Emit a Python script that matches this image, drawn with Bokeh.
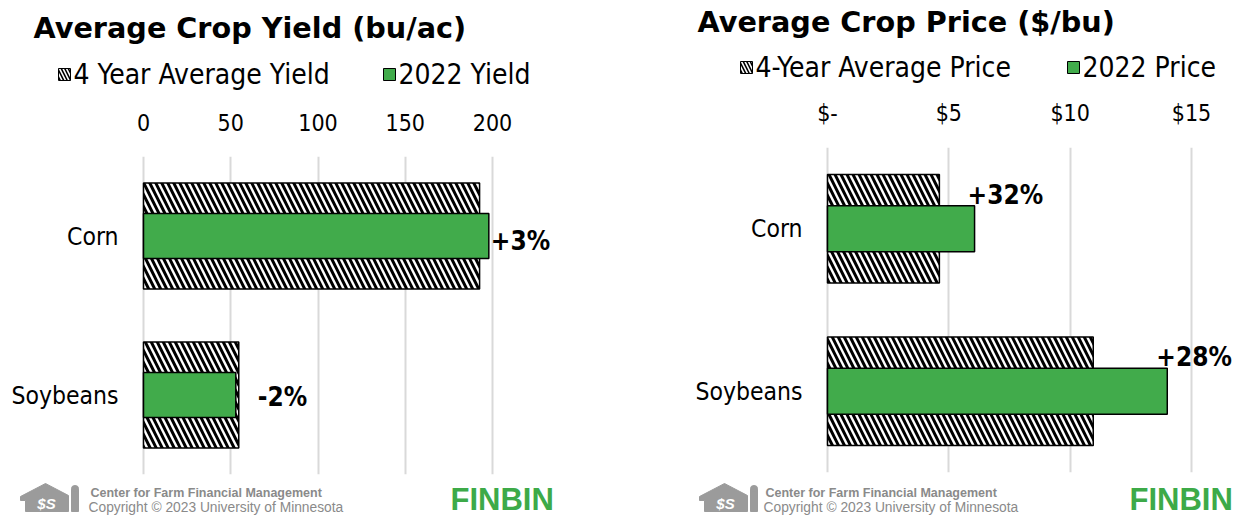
from bokeh.plotting import figure
from bokeh.models import Range1d, FactorRange, FixedTicker, ColumnDataSource
from bokeh.layouts import row, column
from bokeh.embed import file_html
from bokeh.resources import INLINE
from bokeh.core.properties import value

# ---------------- data ----------------
crops = ["Corn", "Soybeans"]

yield_avg = [192.6, 54.6]
yield_2022 = [197.9, 52.9]
yield_change = ["+3%", "-2%"]
yield_ticks = [0, 50, 100, 150, 200]
yield_tick_labels = ["0", "50", "100", "150", "200"]

price_avg = [4.61, 10.95]
price_2022 = [6.06, 14.0]
price_change = ["+32%", "+28%"]
price_ticks = [0, 5, 10, 15]
price_tick_labels = ["$-", "$5", "$10", "$15"]

# ---------------- style ----------------
FONT = "DejaVu Sans Condensed"
TITLE_FONT = "DejaVu Sans"
FOOT = "Liberation Sans"
GREEN = "#41AB4B"
GRAY = "#9B9B9B"
FOOT_TEXT = "#8A8A8A"
FIN_GREEN = "#3DAA48"
PANEL_W = 619
TOTAL_H = 517
FOOT_TOP = 478
HATCH = dict(hatch_pattern="\\", hatch_color="black", hatch_scale=12, hatch_weight=3)


def canvas_fig(w, h):
    """A figure whose frame is the whole canvas, with pixel-like coordinates (y down)."""
    f = figure(width=w, height=h, x_range=Range1d(0, w), y_range=Range1d(h, 0),
               output_backend="svg", toolbar_location=None,
               x_axis_location=None, y_axis_location=None,
               min_border_left=0, min_border_right=0, min_border_top=0, min_border_bottom=0)
    f.outline_line_color = None
    f.grid.visible = False
    f.background_fill_color = "white"
    f.border_fill_color = "white"
    return f


def make_header(title, leg1, leg2, x0, h, title_xy, leg):
    f = canvas_fig(PANEL_W, h)
    f.text(x=[title_xy[0] - x0], y=[title_xy[1]], text=[title], text_font=value(TITLE_FONT),
           text_font_style="bold", text_font_size="28.7px", text_baseline="middle",
           text_color="black")
    s1, t1, s2, t2, ly = leg
    sq = 12
    f.quad(left=[s1 - x0], right=[s1 - x0 + sq], top=[ly - sq / 2], bottom=[ly + sq / 2],
           fill_color="white", hatch_pattern="\\", hatch_color="black", hatch_scale=7,
           hatch_weight=1.6, line_color="black", line_width=1)
    f.quad(left=[s2 - x0], right=[s2 - x0 + sq], top=[ly - sq / 2], bottom=[ly + sq / 2],
           fill_color=GREEN, line_color="black", line_width=1)
    f.text(x=[t1 - x0, t2 - x0], y=[ly, ly], text=[leg1, leg2], text_font=value(FONT),
           text_font_size="28px", text_baseline="middle", text_color="black")
    return f


def make_chart(avg, cur, change, ticks, tick_labels, x0, top, h, frame_left, frame_top,
               frame_bottom, px_per_unit, label_offsets, tick_standoff):
    # frame spans the whole panel width; value 0 sits at page x = frame_left
    x_start = -(frame_left - x0) / px_per_unit
    x_end = (x0 + PANEL_W - frame_left) / px_per_unit
    p = figure(width=PANEL_W, height=h, output_backend="svg", toolbar_location=None,
               y_range=FactorRange(*reversed(crops)), x_range=Range1d(x_start, x_end),
               x_axis_location="above", y_axis_location=None,
               min_border_left=0, min_border_right=0,
               min_border_top=frame_top - top, min_border_bottom=top + h - frame_bottom)
    p.outline_line_color = None
    p.background_fill_color = "white"
    p.border_fill_color = "white"

    xa = p.xaxis[0]
    xa.ticker = FixedTicker(ticks=ticks)
    xa.major_label_overrides = {t: l for t, l in zip(ticks, tick_labels)}
    xa.axis_line_color = None
    xa.major_tick_line_color = None
    xa.minor_tick_line_color = None
    xa.major_tick_out = 0
    xa.major_tick_in = 0
    xa.minor_tick_out = 0
    xa.major_label_text_font = FONT
    xa.major_label_text_font_size = "23px"
    xa.major_label_text_color = "black"
    xa.major_label_standoff = tick_standoff

    for g in p.grid:
        g.grid_line_color = None
    p.xgrid.grid_line_color = "#D9D9D9"
    p.xgrid.grid_line_width = 2

    src = ColumnDataSource(dict(crop=crops, avg=avg, cur=cur, change=change,
                                dx=[o[0] for o in label_offsets],
                                dy=[o[1] for o in label_offsets]))
    p.hbar(y="crop", left=0, right="avg", height=0.667, source=src,
           fill_color="white", line_color="black", line_width=1.5, **HATCH)
    p.hbar(y="crop", left=0, right="cur", height=0.283, source=src,
           fill_color=GREEN, line_color="black", line_width=1.5)
    p.text(x="cur", y="crop", text="change", source=src, x_offset="dx", y_offset="dy",
           text_font=value(FONT), text_font_style="bold", text_font_size="26px",
           text_baseline="middle", text_align="left", text_color="black")
    # category labels
    p.text(x=0, y="crop", text="crop", source=src, x_offset=-25,
           text_font=value(FONT), text_font_size="24.5px", text_baseline="middle",
           text_align="right", text_color="black")
    return p


def make_footer(x0, lx, fx, finx):
    h = TOTAL_H - FOOT_TOP
    f = canvas_fig(PANEL_W, h)
    def Y(py):
        return py - FOOT_TOP
    L = lx - x0
    # barn-shaped logo
    f.patch(x=[L + 2, L + 27, L + 50, L + 50, L + 7, L + 7, L + 2],
            y=[Y(496), Y(483), Y(495), Y(511), Y(511), Y(500), Y(500)],
            color=GRAY, line_width=1)
    f.quad(left=[L + 53], right=[L + 60], top=[Y(489)], bottom=[Y(511)], color=GRAY)
    f.ellipse(x=[L + 56.5], y=[Y(488)], width=7, height=6, color=GRAY)
    f.text(x=[L + 28], y=[Y(503)], text=["$S"], text_font=value(FOOT),
           text_font_style="bold italic", text_font_size="15px", text_align="center",
           text_baseline="middle", text_color="white")
    X = fx - x0
    f.text(x=[X + 2], y=[Y(492)], text=["Center for Farm Financial Management"],
           text_font=value(FOOT), text_font_style="bold", text_font_size="12.5px",
           text_baseline="middle", text_color=FOOT_TEXT)
    f.text(x=[X], y=[Y(506.5)], text=["Copyright \u00a9 2023 University of Minnesota"],
           text_font=value(FOOT), text_font_size="13.8px", text_baseline="middle",
           text_color=FOOT_TEXT)
    f.text(x=[finx - x0], y=[Y(498.5)], text=["FINBIN"], text_font=value(FOOT),
           text_font_style="bold", text_font_size="31px", text_baseline="middle",
           text_color=FIN_GREEN)
    return f


# ---------------- left panel ----------------
L_HEAD = 95
left_panel = column(
    make_header("Average Crop Yield (bu/ac)", "4 Year Average Yield", "2022 Yield",
                x0=0, h=L_HEAD, title_xy=(33, 27), leg=(58, 73, 383, 398, 74)),
    make_chart(yield_avg, yield_2022, yield_change, yield_ticks, yield_tick_labels,
               x0=0, top=L_HEAD, h=FOOT_TOP - L_HEAD, frame_left=143, frame_top=156,
               frame_bottom=474, px_per_unit=1.745,
               label_offsets=[(2, 5), (22, 2)], tick_standoff=26),
    make_footer(x0=0, lx=18, fx=88, finx=450),
)

# ---------------- right panel ----------------
R_HEAD = 86
right_panel = column(
    make_header("Average Crop Price ($/bu)", "4-Year Average Price", "2022 Price",
                x0=PANEL_W, h=R_HEAD, title_xy=(697, 21), leg=(740, 755, 1067, 1082, 67)),
    make_chart(price_avg, price_2022, price_change, price_ticks, price_tick_labels,
               x0=PANEL_W, top=R_HEAD, h=FOOT_TOP - R_HEAD, frame_left=827, frame_top=147,
               frame_bottom=472, px_per_unit=24.27,
               label_offsets=[(-7, -34), (-11, -34)], tick_standoff=22),
    make_footer(x0=PANEL_W, lx=697, fx=763, finx=1129),
)

layout = row(left_panel, right_panel)
open("out.html", "w").write(file_html(layout, INLINE))
